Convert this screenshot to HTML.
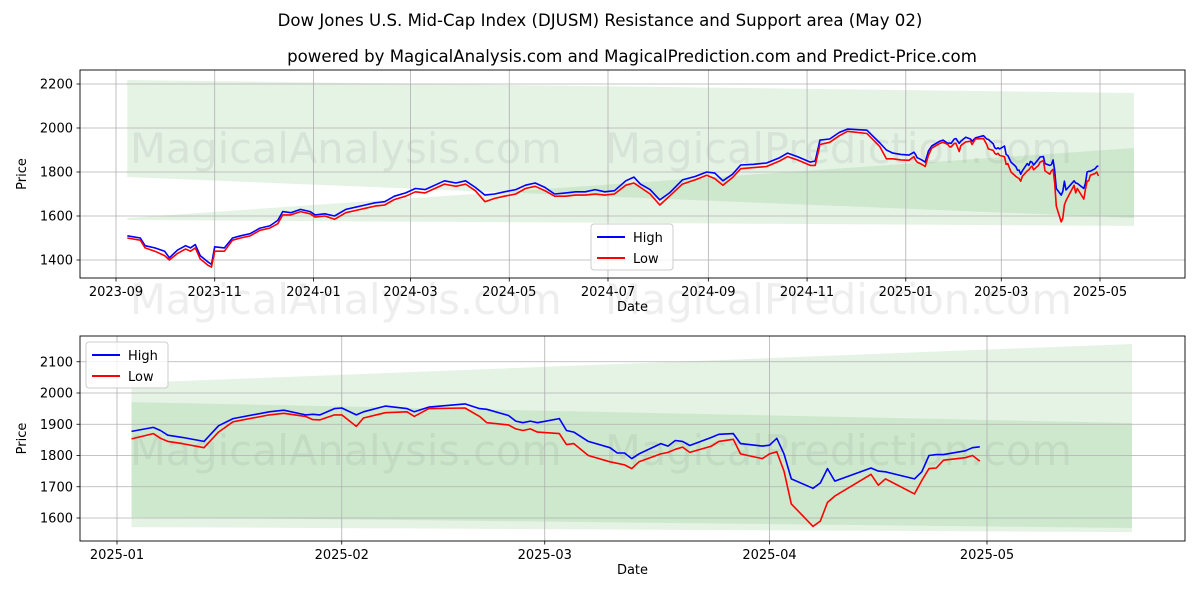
<!DOCTYPE html>
<html><head><meta charset="utf-8"><style>
body{margin:0;background:#fff;}
svg{font-family:"DejaVu Sans","Liberation Sans",sans-serif;display:block}
</style></head><body>
<svg id="c" width="1200" height="600" viewBox="0 0 1200 600">
<text x="600" y="26" text-anchor="middle" font-size="16.6">Dow Jones U.S. Mid-Cap Index (DJUSM) Resistance and Support area (May 02)</text>
<text x="632" y="62" text-anchor="middle" font-size="16.6">powered by MagicalAnalysis.com and MagicalPrediction.com and Predict-Price.com</text>
</svg>
<script>
const topDates=["2023-09-08","2023-09-16","2023-09-19","2023-09-25","2023-10-01","2023-10-04","2023-10-09","2023-10-14","2023-10-17","2023-10-20","2023-10-23","2023-10-28","2023-10-30","2023-11-01","2023-11-07","2023-11-12","2023-11-17","2023-11-23","2023-11-29","2023-12-05","2023-12-10","2023-12-13","2023-12-18","2023-12-24","2023-12-30","2024-01-02","2024-01-08","2024-01-14","2024-01-21","2024-01-27","2024-02-02","2024-02-08","2024-02-14","2024-02-20","2024-02-27","2024-03-04","2024-03-10","2024-03-16","2024-03-22","2024-03-29","2024-04-04","2024-04-10","2024-04-16","2024-04-22","2024-04-28","2024-05-05","2024-05-11","2024-05-17","2024-05-23","2024-05-29","2024-06-05","2024-06-11","2024-06-17","2024-06-23","2024-06-29","2024-07-05","2024-07-12","2024-07-17","2024-07-21","2024-07-27","2024-08-02","2024-08-08","2024-08-16","2024-08-24","2024-08-31","2024-09-05","2024-09-10","2024-09-16","2024-09-21","2024-09-29","2024-10-07","2024-10-15","2024-10-20","2024-10-26","2024-11-03","2024-11-06","2024-11-09","2024-11-15","2024-11-21","2024-11-26","2024-12-08","2024-12-16","2024-12-20","2024-12-24","2024-12-29"];
const topHigh=[1510,1500,1465,1455,1440,1410,1445,1465,1455,1470,1420,1390,1380,1460,1455,1500,1510,1520,1545,1555,1580,1620,1615,1630,1620,1605,1610,1600,1630,1640,1650,1660,1665,1690,1705,1725,1720,1740,1760,1750,1760,1730,1695,1700,1710,1720,1740,1750,1730,1700,1705,1710,1710,1720,1710,1715,1760,1777,1745,1720,1673,1705,1764,1780,1800,1795,1760,1790,1832,1835,1841,1865,1886,1870,1845,1850,1945,1950,1980,1995,1990,1932,1900,1886,1880];
const topLow=[1500,1490,1455,1440,1420,1400,1430,1450,1440,1455,1405,1375,1368,1440,1440,1490,1500,1510,1535,1545,1565,1605,1605,1620,1610,1595,1600,1585,1615,1625,1635,1645,1650,1675,1690,1710,1705,1725,1745,1735,1745,1715,1665,1680,1690,1700,1725,1735,1715,1690,1690,1695,1695,1700,1695,1700,1740,1750,1730,1700,1650,1690,1745,1765,1785,1770,1740,1775,1815,1820,1825,1850,1870,1855,1830,1830,1925,1935,1965,1985,1975,1915,1860,1860,1855];
const botDates=["2025-01-03","2025-01-06","2025-01-07","2025-01-08","2025-01-10","2025-01-13","2025-01-15","2025-01-17","2025-01-22","2025-01-24","2025-01-27","2025-01-28","2025-01-29","2025-01-31","2025-02-01","2025-02-03","2025-02-04","2025-02-07","2025-02-10","2025-02-11","2025-02-13","2025-02-18","2025-02-20","2025-02-21","2025-02-24","2025-02-25","2025-02-26","2025-02-27","2025-02-28","2025-03-03","2025-03-04","2025-03-05","2025-03-07","2025-03-10","2025-03-11","2025-03-12","2025-03-13","2025-03-14","2025-03-17","2025-03-18","2025-03-19","2025-03-20","2025-03-21","2025-03-24","2025-03-25","2025-03-27","2025-03-28","2025-03-31","2025-04-01","2025-04-02","2025-04-03","2025-04-04","2025-04-07","2025-04-08","2025-04-09","2025-04-10","2025-04-15","2025-04-16","2025-04-17","2025-04-21","2025-04-22","2025-04-23","2025-04-24","2025-04-25","2025-04-28","2025-04-29","2025-04-30"];
const botHigh=[1877,1890,1880,1865,1858,1845,1895,1918,1940,1945,1930,1932,1930,1950,1952,1930,1940,1958,1950,1940,1955,1965,1950,1948,1928,1910,1905,1910,1905,1918,1880,1875,1845,1825,1808,1808,1790,1805,1838,1830,1848,1845,1832,1858,1868,1870,1838,1830,1833,1855,1805,1725,1695,1712,1758,1718,1760,1750,1748,1725,1748,1800,1803,1803,1815,1825,1828];
const botLow=[1853,1870,1855,1845,1838,1825,1875,1908,1930,1935,1925,1915,1914,1930,1930,1893,1920,1937,1940,1925,1950,1952,1925,1905,1898,1885,1880,1885,1875,1870,1835,1838,1800,1780,1775,1770,1758,1780,1805,1810,1820,1827,1810,1830,1845,1852,1805,1790,1805,1812,1750,1645,1573,1590,1650,1670,1740,1705,1725,1677,1720,1758,1760,1785,1793,1800,1782];
const topTicksY=[1400,1600,1800,2000,2200];
const topTicksX=["2023-09","2023-11","2024-01","2024-03","2024-05","2024-07","2024-09","2024-11","2025-01","2025-03","2025-05"];
const botTicksY=[1600,1700,1800,1900,2000,2100];
const botTicksX=["2025-01","2025-02","2025-03","2025-04","2025-05"];
const topBandDates=["2023-09-08","2025-05-22"];
const topResUpper=[2218,2159], topResLower=[1777,1591];
const topSupUpper=[1591,1909], topSupLower=[1582,1555];
const botBandDates=["2025-01-03","2025-05-21"];
const botResUpper=[2032,2157], botResLower=[1603,1568];
const botSupUpper=[1971,1904], botSupLower=[1571,1555];

const NS="http://www.w3.org/2000/svg";
const svg=document.getElementById('c');
const T=s=>{const p=s.split('-').map(Number);return Date.UTC(p[0],p[1]-1,p[2]||1);};
function mk(tag,attrs,parent){const e=document.createElementNS(NS,tag);for(const k in attrs)e.setAttribute(k,attrs[k]);(parent||svg).appendChild(e);return e;}

function panel(cfg){
  const g=mk('g',{});
  
  
  const X=d=>cfg.x0+(T(d)-T(cfg.d0))/(T(cfg.d1)-T(cfg.d0))*(cfg.x1-cfg.x0);
  const Y=v=>cfg.y0+(v-cfg.v0)/(cfg.v1-cfg.v0)*(cfg.y1-cfg.y0);
  const L=cfg.L,R=cfg.R,TP=cfg.TP,B=cfg.B;
  [[cfg.resU,cfg.resL,'resistance-band'],[cfg.supU,cfg.supL,'support-band']].forEach(b=>{
    const pts=[[X(cfg.bd[0]),Y(b[0][0])],[X(cfg.bd[1]),Y(b[0][1])],[X(cfg.bd[1]),Y(b[1][1])],[X(cfg.bd[0]),Y(b[1][0])]];
    const p=mk('polygon',{points:pts.map(q=>q.join(',')).join(' '),fill:'rgba(44,160,44,0.12)'},g);
    
    
  });
  cfg.wm.forEach(w=>{const t=mk('text',{x:w[0],y:w[1],'font-size':41.5,fill:'rgba(120,120,120,0.13)'},g);t.textContent=w[2];
    
    });
  cfg.ty.forEach(v=>{const y=Y(v);
    mk('line',{x1:L,x2:R,y1:y,y2:y,stroke:'#b0b0b0','stroke-width':0.8},g);
    mk('line',{x1:L-3.5,x2:L,y1:y,y2:y,stroke:'#000','stroke-width':0.8},g);
    const t=mk('text',{x:L-7,y:y+4.5,'text-anchor':'end','font-size':13},g);t.textContent=v;
    
    });
  cfg.tx.forEach(d=>{const x=X(d);
    mk('line',{x1:x,x2:x,y1:TP,y2:B,stroke:'#b0b0b0','stroke-width':0.8},g);
    mk('line',{x1:x,x2:x,y1:B,y2:B+3.5,stroke:'#000','stroke-width':0.8},g);
    const t=mk('text',{x:x,y:B+18,'text-anchor':'middle','font-size':13},g);t.textContent=d;
    
    });
  [[cfg.hi,'#0000ff','high-line'],[cfg.lo,'#ff0000','low-line']].forEach(s=>{
    const p=mk('polyline',{points:cfg.dates.map((d,i)=>X(d).toFixed(1)+','+Y(s[0][i]).toFixed(1)).join(' '),fill:'none',stroke:s[1],'stroke-width':1.6,'stroke-linejoin':'round'},g);
    
    
  });
  const fr=mk('rect',{x:L,y:TP,width:R-L,height:B-TP,fill:'none',stroke:'#000','stroke-width':0.9},g);
  
  
  const xl=mk('text',{x:(L+R)/2,y:B+33,'text-anchor':'middle','font-size':13},g);xl.textContent='Date';
  
  
  const yl=mk('text',{x:0,y:0,'text-anchor':'middle','font-size':13,transform:`translate(26,${(TP+B)/2}) rotate(-90)`},g);yl.textContent='Price';
  
  
  const lg=mk('g',{},g);
  
  
  const [lx,ly]=cfg.leg;
  mk('rect',{x:lx,y:ly,width:82,height:46,rx:3,fill:'rgba(255,255,255,0.8)',stroke:'#ccc'},lg);
  [['High','#0000ff'],['Low','#ff0000']].forEach((e,i)=>{
    mk('line',{x1:lx+6,x2:lx+34,y1:ly+13+i*21,y2:ly+13+i*21,stroke:e[1],'stroke-width':2},lg);
    const t=mk('text',{x:lx+42,y:ly+18+i*21,'font-size':13},lg);t.textContent=e[0];
    
    
  });
}
panel({name:'top-panel',x0:116,x1:1100,d0:'2023-09-01',d1:'2025-05-01',y0:260,y1:216,v0:1400,v1:1600,L:80,R:1185,TP:70,B:278,
  bd:topBandDates,resU:topResUpper,resL:topResLower,supU:topSupUpper,supL:topSupLower,
  ty:topTicksY,tx:topTicksX,dates:topDates.concat(botDates),hi:topHigh.concat(botHigh),lo:topLow.concat(botLow),
  leg:[591,224],wm:[[130,163,'MagicalAnalysis.com'],[605,163,'MagicalPrediction.com'],[130,314,'MagicalAnalysis.com'],[605,314,'MagicalPrediction.com']]});
panel({name:'bottom-panel',x0:117,x1:987,d0:'2025-01-01',d1:'2025-05-01',y0:518,y1:393,v0:1600,v1:2000,L:80,R:1185,TP:336,B:541,
  bd:botBandDates,resU:botResUpper,resL:botResLower,supU:botSupUpper,supL:botSupLower,
  ty:botTicksY,tx:botTicksX,dates:botDates,hi:botHigh,lo:botLow,
  leg:[86,342],wm:[[130,465,'MagicalAnalysis.com'],[605,465,'MagicalPrediction.com']]});
</script>
</body></html>
